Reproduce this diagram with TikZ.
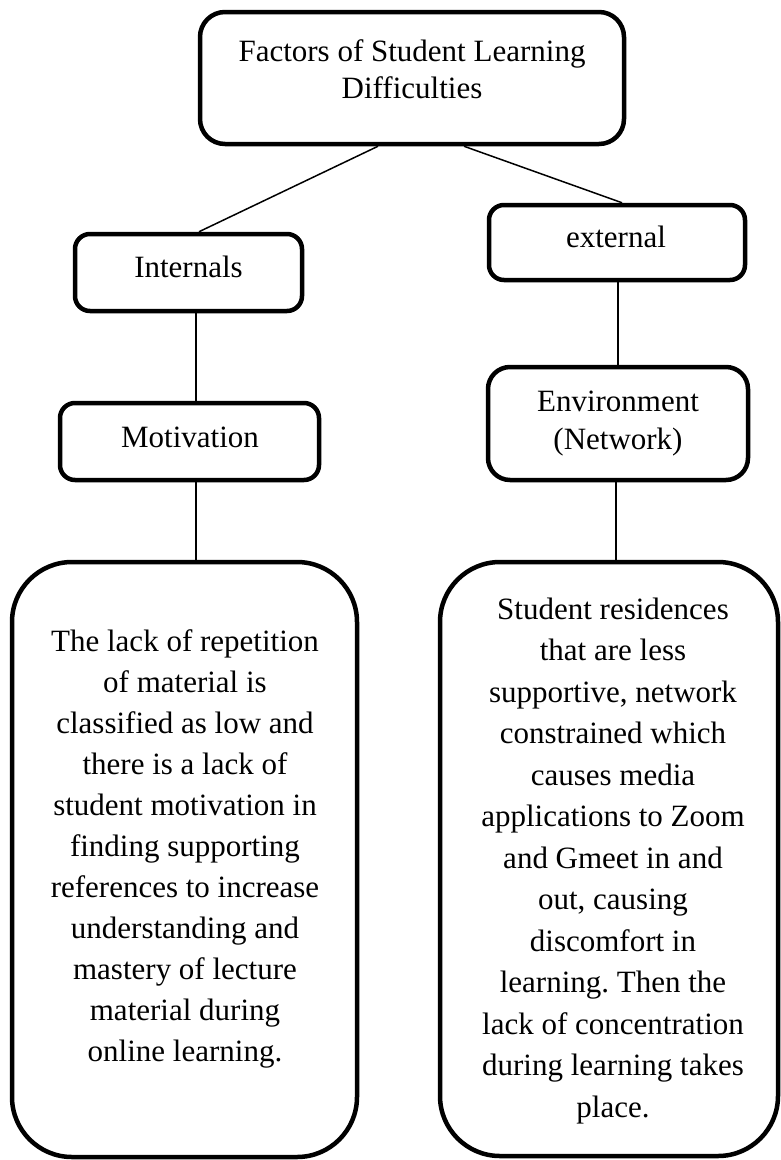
\documentclass[tikz,border=0pt]{standalone}
\usepackage{fontspec}
\setmainfont{Liberation Serif}
\frenchspacing
\begin{document}
\begin{tikzpicture}[x=1pt,y=-1pt,
  box/.style={draw, line width=4.5pt, rounded corners=#1, inner sep=0pt},
  box/.default=15pt,
  txt/.style={font=\fontsize{31}{41.5}\selectfont, align=center, inner sep=0pt},
  one/.style={txt, text height=21pt, text depth=7pt},
  link/.style={line width=1.5pt}]
\useasboundingbox[fill=white] (0,0) rectangle (781,1160);
% boxes
\node[box=25pt, minimum width=424pt, minimum height=132pt] (top) at (412,78) {};
\node[box, minimum width=227pt, minimum height=77pt] (int) at (188.5,272.5) {};
\node[box, minimum width=256pt, minimum height=75pt] (ext) at (617,242.5) {};
\node[box, minimum width=259pt, minimum height=77pt] (mot) at (189.5,441.5) {};
\node[box=22pt, minimum width=260pt, minimum height=113pt] (env) at (618,423.5) {};
\node[box=60pt, minimum width=345pt, minimum height=595pt] (lbox) at (184.5,859.5) {};
\node[box=60pt, minimum width=338pt, minimum height=594pt] (rbox) at (609,859) {};
% texts
\node[txt, font=\fontsize{31}{37.5}\selectfont] (topt) at (412,69) {Factors of Student Learning\\Difficulties};
\node[one] (intt) at (188.5,270) {Internals};
\node[one] (extt) at (616,240) {external};
\node[one] (mott) at (190,440) {Motivation};
\node[txt, font=\fontsize{31}{38}\selectfont] (envt) at (618,424) {Environment\\(Network)};
\node[txt, font=\fontsize{31}{41}\selectfont] (lt) at (185,849) {The lack of repetition\\of material is\\classified as low and\\there is a lack of\\student motivation in\\finding supporting\\references to increase\\understanding and\\mastery of lecture\\material during\\online learning.};
\node[txt] (rt) at (613,861) {Student residences\\that are less\\supportive, network\\constrained which\\causes media\\applications to Zoom\\and Gmeet in and\\out, causing\\discomfort in\\learning. Then the\\lack of concentration\\during learning takes\\place.};
% connectors
\draw[link] ([xshift=-34pt]top.south) -- ([xshift=10.5pt]int.north);
\draw[link] ([xshift=52pt]top.south) -- ([xshift=5pt]ext.north);
\draw[link] ([xshift=7.5pt]int.south) -- ([xshift=7.5pt]int.south |- mot.north);
\draw[link] ([xshift=1pt]ext.south) -- ([xshift=1pt]ext.south |- env.north);
\draw[link] ([xshift=6.5pt]mot.south) -- ([xshift=6.5pt]mot.south |- lbox.north);
\draw[link] ([xshift=-2pt]env.south) -- ([xshift=-2pt]env.south |- rbox.north);
\end{tikzpicture}
\end{document}
